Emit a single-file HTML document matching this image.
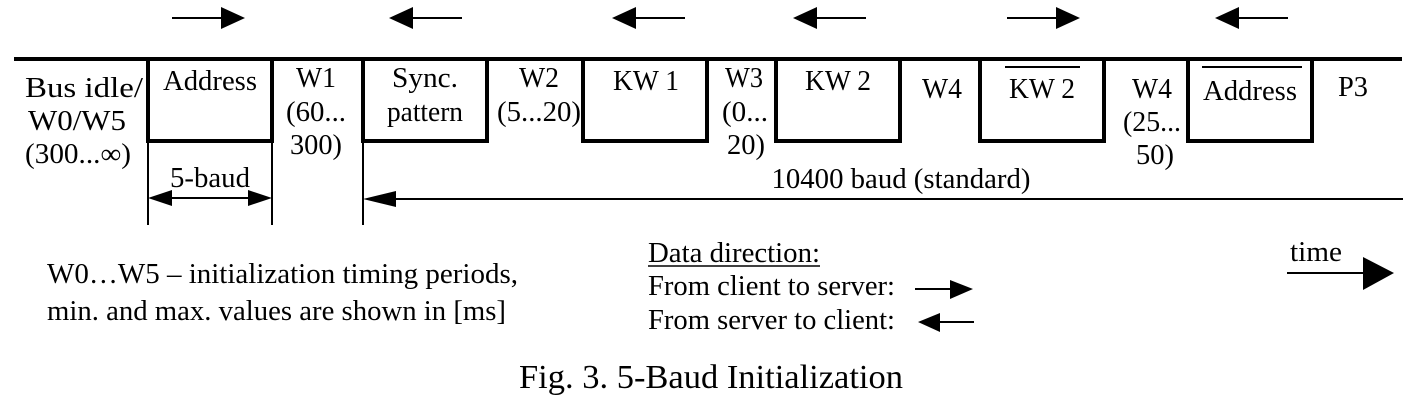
<!DOCTYPE html>
<html><head><meta charset="utf-8"><style>
html,body{margin:0;padding:0;background:#fff;}
svg{display:block;}
text{font-family:"Liberation Serif",serif;fill:#000;font-size:28px;}
</style></head><body>
<svg width="1407" height="405" viewBox="0 0 1407 405">
<g id="arrows"></g>
<line x1="14" y1="59" x2="1402" y2="59" stroke="#000" stroke-width="4"/>
<g id="boxes"></g>
<g stroke="#000" stroke-width="2">
<line x1="148" y1="141" x2="148" y2="225"/><line x1="272" y1="141" x2="272" y2="225"/><line x1="363" y1="141" x2="363" y2="225"/>
<line x1="165" y1="198" x2="255" y2="198"/>
<line x1="380" y1="199" x2="1403" y2="199"/>
</g>
<polygon fill="#000" points="148,198 172,190 172,206"/>
<polygon fill="#000" points="272,198 248,190 248,206"/>
<polygon fill="#000" points="363,199 396,191 396,207"/>
<g text-anchor="middle">
<text x="84" y="97" textLength="118" lengthAdjust="spacingAndGlyphs">Bus idle/</text>
<text x="77" y="130" textLength="98" lengthAdjust="spacingAndGlyphs">W0/W5</text>
<text x="78" y="163" textLength="106" lengthAdjust="spacingAndGlyphs">(300...∞)</text>
<text x="210" y="90" textLength="94" lengthAdjust="spacingAndGlyphs">Address</text>
<text x="210" y="187" textLength="80" lengthAdjust="spacingAndGlyphs">5-baud</text>
<text x="316" y="87" textLength="40" lengthAdjust="spacingAndGlyphs">W1</text>
<text x="316" y="121" textLength="60" lengthAdjust="spacingAndGlyphs">(60...</text>
<text x="316" y="154" textLength="52" lengthAdjust="spacingAndGlyphs">300)</text>
<text x="425" y="87" textLength="66" lengthAdjust="spacingAndGlyphs">Sync.</text>
<text x="425" y="121" textLength="76" lengthAdjust="spacingAndGlyphs">pattern</text>
<text x="539" y="87" textLength="40" lengthAdjust="spacingAndGlyphs">W2</text>
<text x="539" y="121" textLength="84" lengthAdjust="spacingAndGlyphs">(5...20)</text>
<text x="646" y="90" textLength="66" lengthAdjust="spacingAndGlyphs">KW 1</text>
<text x="744" y="87" textLength="38" lengthAdjust="spacingAndGlyphs">W3</text>
<text x="745" y="121" textLength="46" lengthAdjust="spacingAndGlyphs">(0...</text>
<text x="746" y="154" textLength="38" lengthAdjust="spacingAndGlyphs">20)</text>
<text x="838" y="90" textLength="66" lengthAdjust="spacingAndGlyphs">KW 2</text>
<text x="942" y="98" textLength="40" lengthAdjust="spacingAndGlyphs">W4</text>
<text x="1042" y="98" textLength="66" lengthAdjust="spacingAndGlyphs">KW 2</text>
<line x1="1005" y1="67" x2="1080" y2="67" stroke="#000" stroke-width="2"/>
<text x="1152" y="98" textLength="40" lengthAdjust="spacingAndGlyphs">W4</text>
<text x="1152" y="131" textLength="58" lengthAdjust="spacingAndGlyphs">(25...</text>
<text x="1155" y="164" textLength="38" lengthAdjust="spacingAndGlyphs">50)</text>
<text x="1250" y="100" textLength="94" lengthAdjust="spacingAndGlyphs">Address</text>
<line x1="1202" y1="67" x2="1302" y2="67" stroke="#000" stroke-width="2"/>
<text x="1353" y="96" textLength="30" lengthAdjust="spacingAndGlyphs">P3</text>
<text x="901" y="188" textLength="259" lengthAdjust="spacingAndGlyphs">10400 baud (standard)</text>
</g>
<g>
<text x="47" y="283" textLength="471" lengthAdjust="spacingAndGlyphs">W0…W5 – initialization timing periods,</text>
<text x="47" y="320" textLength="459" lengthAdjust="spacingAndGlyphs">min. and max. values are shown in [ms]</text>
</g>
<g>
<text x="648" y="262" textLength="172" lengthAdjust="spacingAndGlyphs">Data direction:</text>
<line x1="648" y1="266" x2="820" y2="266" stroke="#000" stroke-width="1.5"/>
<text x="648" y="295" textLength="247" lengthAdjust="spacingAndGlyphs">From client to server:</text>
<text x="648" y="329" textLength="247" lengthAdjust="spacingAndGlyphs">From server to client:</text>
<line x1="915" y1="289" x2="950" y2="289" stroke="#000" stroke-width="2"/>
<polygon points="973,289 950,280 950,299" fill="#000"/>
<line x1="940" y1="322" x2="974" y2="322" stroke="#000" stroke-width="2"/>
<polygon points="918,322 940,313 940,332" fill="#000"/>
<text x="1290" y="261" textLength="52" lengthAdjust="spacingAndGlyphs">time</text>
<line x1="1287" y1="273" x2="1366" y2="273" stroke="#000" stroke-width="2"/>
<polygon points="1394,273 1363,257 1363,290" fill="#000"/>
</g>
<text x="519" y="388" textLength="384" lengthAdjust="spacingAndGlyphs" style="font-size:34px">Fig. 3. 5-Baud Initialization</text>
<script>
const pulseStarts=[148,363,583,776,980,1188];
const pulseWidth=124;
const arrowStarts=[172,389,612,793,1007,1215];
const arrowDirs=[1,-1,-1,-1,1,-1];
const ns='http://www.w3.org/2000/svg';
const bx=document.getElementById('boxes');
pulseStarts.forEach(s=>{
  const r=document.createElementNS(ns,'rect');
  r.setAttribute('x',s);r.setAttribute('y',59);
  r.setAttribute('width',pulseWidth);r.setAttribute('height',82);
  r.setAttribute('fill','none');r.setAttribute('stroke','#000');r.setAttribute('stroke-width','4');
  
  
  bx.appendChild(r);
});
const g=document.getElementById('arrows');
arrowStarts.forEach((x,i)=>{
  const y=18,L=73,dir=arrowDirs[i];
  const ln=document.createElementNS(ns,'line');
  const tip=dir>0?x+L:x, base=dir>0?x+L-24:x+24;
  ln.setAttribute('x1',dir>0?x:base);ln.setAttribute('x2',dir>0?base:x+L);
  ln.setAttribute('y1',y);ln.setAttribute('y2',y);
  ln.setAttribute('stroke','#000');ln.setAttribute('stroke-width','2');
  
  
  g.appendChild(ln);
  const p=document.createElementNS(ns,'polygon');
  p.setAttribute('points',`${tip},${y} ${base},${y-11} ${base},${y+11}`);
  p.setAttribute('fill','#000');
  
  
  g.appendChild(p);
});
</script>
</svg>
</body></html>
